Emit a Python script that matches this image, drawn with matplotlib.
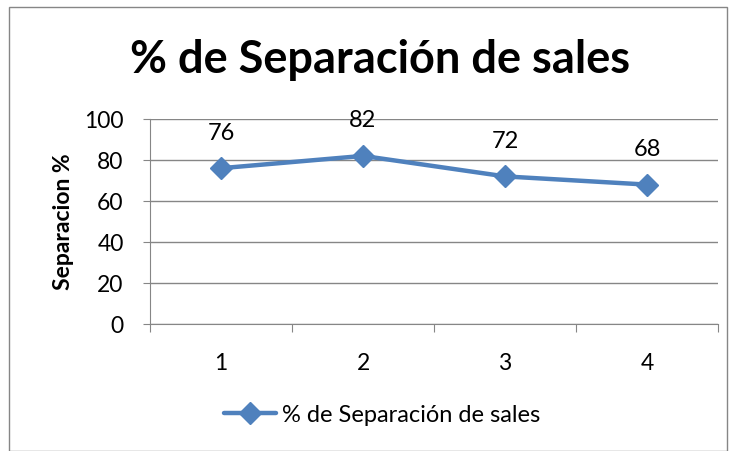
import matplotlib; matplotlib.use("Agg")
import matplotlib.pyplot as plt
from matplotlib.patches import Rectangle

categories = ["1", "2", "3", "4"]
values = [76, 82, 72, 68]
yticks = [0, 20, 40, 60, 80, 100]
series_name = "% de Separación de sales"
title = "% de Separación de sales"
ylabel = "Separacion %"

BLUE = "#4F81BD"
GRID = "#868686"
FONT = ["Lato", "DejaVu Sans"]

fig = plt.figure(figsize=(7.35, 4.52), dpi=100)
fig.patches.append(Rectangle((9/735, 0), (727-9)/735, 1-8/452, transform=fig.transFigure,
                             fill=False, edgecolor=GRID, lw=1))
ax = fig.add_axes([150/735, 1-325/452, (718-150)/735, (325-120)/452])

x = list(range(1, len(values)+1))
ax.plot(x, values, color=BLUE, lw=3.2, marker="D", ms=11.5, solid_capstyle="round", zorder=3)
for xi, v in zip(x, values):
    ax.annotate(str(v), (xi, v), xytext=(0, 26), textcoords="offset points", ha="center", va="center",
                fontsize=17, family=FONT)

ax.set_xlim(0.5, len(values)+0.5); ax.set_ylim(0, 100)
ax.set_yticks(yticks)
ax.set_yticklabels([str(t) for t in yticks], fontsize=16.5, family=FONT)
ax.yaxis.grid(True, color=GRID, lw=1)
ax.set_axisbelow(True)
ax.set_xticks([i+0.5 for i in range(len(values)+1)])
ax.set_xticks(x, minor=True)
ax.set_xticklabels([])
ax.set_xticklabels(categories, minor=True, fontsize=16.5, family=FONT)
ax.tick_params(axis="x", which="major", direction="out", length=6, color=GRID)
ax.tick_params(axis="x", which="minor", length=0, pad=20)
ax.tick_params(axis="y", direction="out", length=5, color=GRID, pad=14)
for s in ["top", "right"]:
    ax.spines[s].set_visible(False)
ax.spines["left"].set_color(GRID); ax.spines["bottom"].set_color(GRID)
fig.text(63/735, 1-222/452, ylabel, rotation=90, ha="center", va="center",
         fontsize=16.5, fontweight="bold", family=FONT)

fig.text(380/735, 1-60/452, title, ha="center", va="center", fontsize=32.5, fontweight="bold", family=FONT)
leg = fig.legend([ax.lines[0]], [series_name], loc="center", bbox_to_anchor=(382/735, 1-416/452),
                 frameon=False, prop=dict(family=FONT, size=17), handlelength=2.2, handletextpad=0.25)

fig.savefig("out.png", dpi=100)
